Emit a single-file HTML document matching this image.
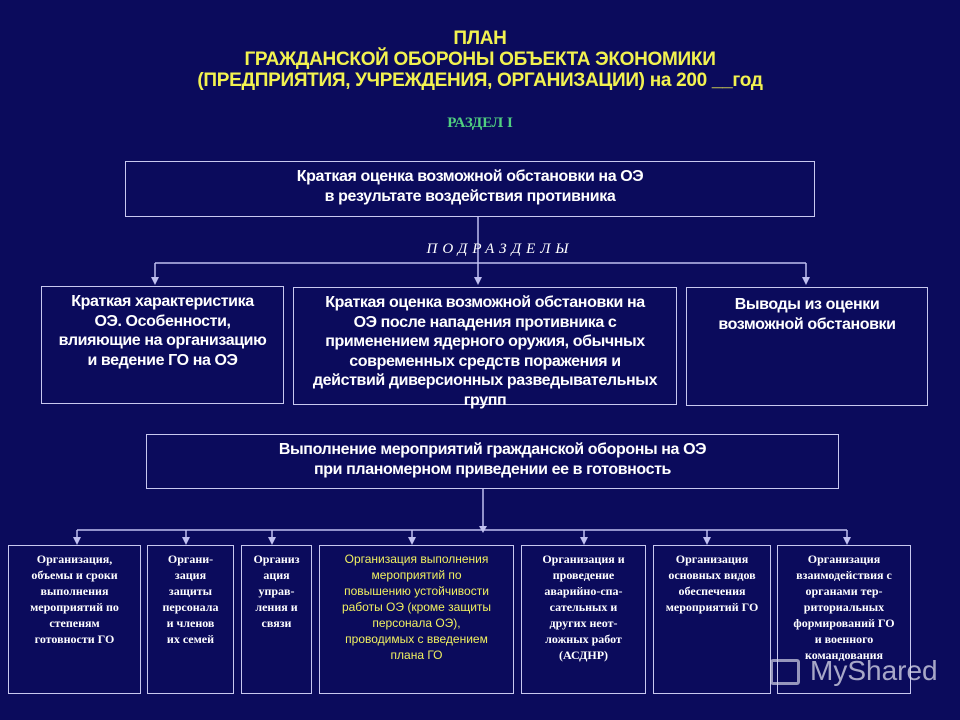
<!DOCTYPE html>
<html><head><meta charset="utf-8"><style>
*{margin:0;padding:0;box-sizing:border-box}
body{width:960px;height:720px;background:#0b0b5c;position:relative;overflow:hidden;font-family:"Liberation Sans",sans-serif}
.t{position:absolute;left:0;width:960px;text-align:center;color:#f2f250;font-weight:bold;font-size:19px;font-family:"Liberation Sans",sans-serif;letter-spacing:-0.3px}
.b{position:absolute;border:1.5px solid #c8c8f0;color:#fff;text-align:center;font-weight:bold;font-size:16px;line-height:19.5px;padding-top:5px;letter-spacing:-0.4px}
.s{font-family:"Liberation Serif",serif;font-weight:bold;font-size:12px;line-height:16px;padding-top:5px;letter-spacing:0}
svg{position:absolute;left:0;top:0}
</style></head><body>
<div class="t" style="top:28px;line-height:21px">ПЛАН<br>ГРАЖДАНСКОЙ ОБОРОНЫ ОБЪЕКТА ЭКОНОМИКИ<br>(ПРЕДПРИЯТИЯ, УЧРЕЖДЕНИЯ, ОРГАНИЗАЦИИ) на 200 __год</div>
<div style="position:absolute;top:115px;left:0;width:960px;text-align:center;color:#50d080;font:bold 15px 'Liberation Serif',serif">РАЗДЕЛ I</div>
<svg width="960" height="720">
<g stroke="#c0c0f0" stroke-width="1.5" fill="none">
<line x1="478" y1="216" x2="478" y2="280"/>
<line x1="155" y1="263" x2="806" y2="263"/>
<line x1="155" y1="263" x2="155" y2="280"/>
<line x1="806" y1="263" x2="806" y2="280"/>
<line x1="483" y1="488" x2="483" y2="530"/>
<line x1="77" y1="530" x2="847" y2="530"/>
<line x1="77" y1="530" x2="77" y2="540"/><line x1="186" y1="530" x2="186" y2="540"/><line x1="272" y1="530" x2="272" y2="540"/><line x1="412" y1="530" x2="412" y2="540"/><line x1="584" y1="530" x2="584" y2="540"/><line x1="707" y1="530" x2="707" y2="540"/><line x1="847" y1="530" x2="847" y2="540"/>
</g>
<g fill="#c0c0f0">
<polygon points="151,277 159,277 155,285"/><polygon points="802,277 810,277 806,285"/><polygon points="474,277 482,277 478,285"/>
<polygon points="479,526 487,526 483,533"/>
<polygon points="73,537 81,537 77,545"/><polygon points="182,537 190,537 186,545"/><polygon points="268,537 276,537 272,545"/><polygon points="408,537 416,537 412,545"/><polygon points="580,537 588,537 584,545"/><polygon points="703,537 711,537 707,545"/><polygon points="843,537 851,537 847,545"/>
</g>
</svg>
<div style="position:absolute;top:241px;left:0;width:960px;text-align:center;padding-left:40px;color:#fff;font:italic 15px 'Liberation Serif',serif;letter-spacing:5px">ПОДРАЗДЕЛЫ</div>
<div class="b" style="left:125px;top:161px;width:690px;height:56px">Краткая оценка возможной обстановки на ОЭ<br>в результате воздействия противника</div>
<div class="b" style="left:41px;top:286px;width:243px;height:118px">Краткая характеристика<br>ОЭ. Особенности,<br>влияющие на организацию<br>и ведение ГО на ОЭ</div>
<div class="b" style="left:293px;top:287px;width:384px;height:118px">Краткая оценка возможной обстановки на<br>ОЭ после нападения противника с<br>применением ядерного оружия, обычных<br>современных средств поражения и<br>действий диверсионных разведывательных<br>групп</div>
<div class="b" style="left:686px;top:287px;width:242px;height:119px;padding-top:7px">Выводы из оценки<br>возможной обстановки</div>
<div class="b" style="left:146px;top:434px;width:693px;height:55px">Выполнение мероприятий гражданской обороны на ОЭ<br>при планомерном приведении ее в готовность</div>
<div class="b s" style="left:8px;top:545px;width:133px;height:149px">Организация,<br>объемы и сроки<br>выполнения<br>мероприятий по<br>степеням<br>готовности ГО</div>
<div class="b s" style="left:147px;top:545px;width:87px;height:149px">Органи-<br>зация<br>защиты<br>персонала<br>и членов<br>их семей</div>
<div class="b s" style="left:241px;top:545px;width:71px;height:149px">Организ<br>ация<br>управ-<br>ления и<br>связи</div>
<div class="b" style="left:319px;top:545px;width:195px;height:149px;font-weight:normal;font-family:'Liberation Sans',sans-serif;font-size:12px;line-height:16px;color:#f0f060;padding-top:5px;letter-spacing:0">Организация выполнения<br>мероприятий по<br>повышению устойчивости<br>работы ОЭ (кроме защиты<br>персонала ОЭ),<br>проводимых с введением<br>плана ГО</div>
<div class="b s" style="left:521px;top:545px;width:125px;height:149px">Организация и<br>проведение<br>аварийно-спа-<br>сательных и<br>других неот-<br>ложных работ<br>(АСДНР)</div>
<div class="b s" style="left:653px;top:545px;width:118px;height:149px">Организация<br>основных видов<br>обеспечения<br>мероприятий ГО</div>
<div class="b s" style="left:777px;top:545px;width:134px;height:149px">Организация<br>взаимодействия с<br>органами тер-<br>риториальных<br>формирований ГО<br>и военного<br>командования</div>
<div style="position:absolute;left:770px;top:659px;width:30px;height:26px;border:3px solid rgba(210,210,230,0.7);border-radius:3px"></div>
<div style="position:absolute;left:810px;top:655px;color:rgba(220,220,235,0.75);font:28px 'Liberation Sans',sans-serif">MyShared</div>
</body></html>
